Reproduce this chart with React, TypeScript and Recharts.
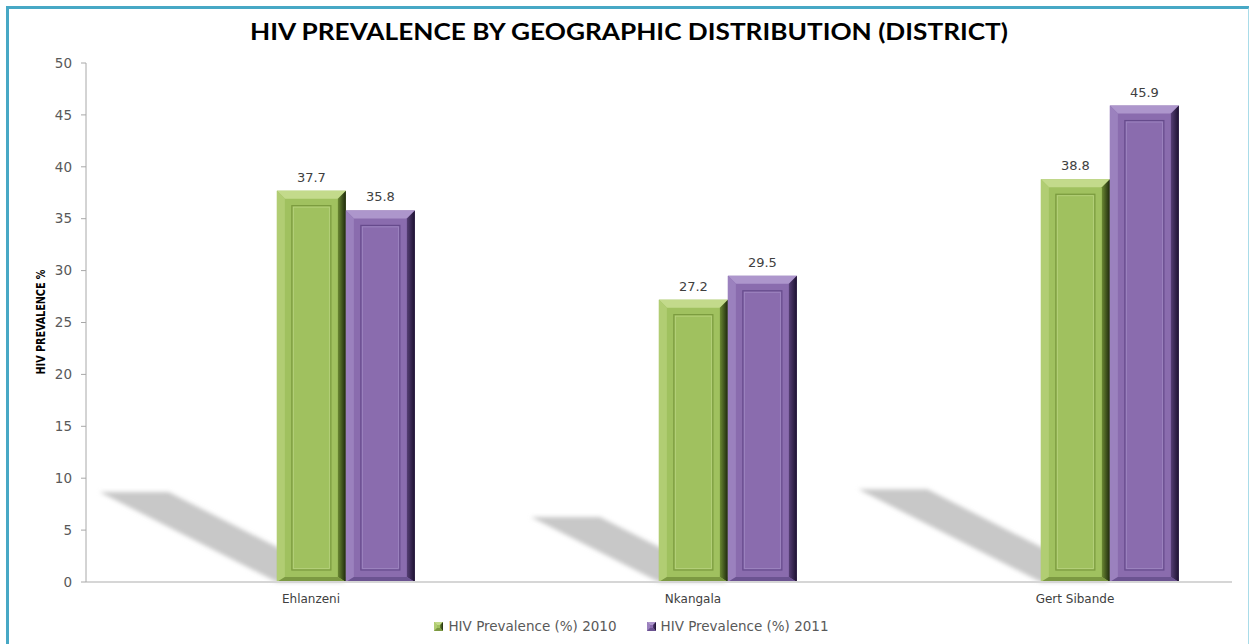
import React from "react";
import { BarChart, Bar, XAxis, YAxis, LabelList, Legend } from "recharts";

const categories = ["Ehlanzeni", "Nkangala", "Gert Sibande"];
const prev2010 = [37.7, 27.2, 38.8];
const prev2011 = [35.8, 29.5, 45.9];
const yTicks = [0, 5, 10, 15, 20, 25, 30, 35, 40, 45, 50];
const seriesNames = ["HIV Prevalence (%) 2010", "HIV Prevalence (%) 2011"];

const data = categories.map((name, i) => ({ name, y2010: prev2010[i], y2011: prev2011[i] }));

const PAL: Record<string, any> = {
  green: { face: "#a0c15f", top: "#c3da8b", left: "#b1cd73", right: "gRight", bottom: "#7c9942", line: "#7a9a3e", hi: "#b8d37f" },
  purple: { face: "#8a6cae", top: "#ad96cc", left: "#9b81be", right: "pRight", bottom: "#6b5391", line: "#664b8c", hi: "#a088c2" },
};

const bevelParts = (x: number, y: number, w: number, h: number, p: any, b: number, bb: number, inset: number) => {
  const r = p.right.startsWith("#") ? p.right : `url(#${p.right})`;
  return (
    <g>
      <rect x={x} y={y} width={w} height={h} fill={p.face} />
      <polygon points={`${x},${y} ${x + w},${y} ${x + w - b},${y + b} ${x + b},${y + b}`} fill={p.top} />
      <polygon points={`${x},${y} ${x + b},${y + b} ${x + b},${y + h - bb} ${x},${y + h}`} fill={p.left} />
      <polygon points={`${x + w},${y} ${x + w},${y + h} ${x + w - b},${y + h - bb} ${x + w - b},${y + b}`} fill={r} />
      <polygon points={`${x},${y + h} ${x + b},${y + h - bb} ${x + w - b},${y + h - bb} ${x + w},${y + h}`} fill={p.bottom} />
      {inset > 0 && h > inset * 2 && (
        <g>
          <rect x={x + inset} y={y + inset} width={w - inset * 2} height={h - inset - 12} fill="none" stroke={p.line} strokeWidth={1.2} />
          <rect x={x + inset + 1.5} y={y + inset + 1.5} width={w - inset * 2 - 3} height={h - inset - 15} fill="none" stroke={p.hi} strokeWidth={0.8} />
        </g>
      )}
    </g>
  );
};

const makeShape = (key: string, withShadow: boolean) => (props: any) => {
  const { x, y, width: w, height: h } = props;
  if (!w || !h) return <g />;
  const base = y + h;
  const sh = h * 0.23;
  const dx = sh * 1.97;
  return (
    <g>
      {withShadow && (
        <polygon
          points={`${x},${base} ${x - dx},${base - sh} ${x - dx + w},${base - sh} ${x + w},${base}`}
          fill="#c8c8c8"
          filter="url(#blurShadow)"
        />
      )}
      {bevelParts(x, y, w, h, PAL[key], 8, 5, 15)}
    </g>
  );
};

const LegendIcon = ({ k }: { k: string }) => (
  <svg width={9} height={9} style={{ marginRight: 5 }}>
    {bevelParts(0, 0, 9, 9, PAL[k], 3, 3, 0)}
  </svg>
);

const renderLegend = () => (
  <div style={{ display: "flex", justifyContent: "center", alignItems: "center", height: 22, paddingLeft: 14, fontFamily: "DejaVu Sans", fontSize: 13.5, color: "#595959" }}>
    {seriesNames.map((s, i) => (
      <div key={s} style={{ display: "flex", alignItems: "center", marginRight: i === 0 ? 30 : 0 }}>
        <LegendIcon k={i === 0 ? "green" : "purple"} />
        <span>{s}</span>
      </div>
    ))}
  </div>
);

export default function App() {
  return (
    <div style={{ position: "fixed", left: 0, top: 0, width: 1249, height: 644, overflow: "hidden", background: "#fff" }}>
      <div style={{ position: "absolute", left: 6, top: 6, width: 1239, height: 700, borderLeft: "3px solid #47a8c5", borderTop: "3px solid #47a8c5", borderRight: "2px solid #a9dce9" }} />
      <svg width={1249} height={60} style={{ position: "absolute", left: 0, top: 0 }}>
        <text x={250} y={40} textLength={758} lengthAdjust="spacingAndGlyphs" fontFamily="Lato" fontWeight="bold" fontSize={22} fill="#000">
          HIV PREVALENCE BY GEOGRAPHIC DISTRIBUTION (DISTRICT)
        </text>
      </svg>
      <div style={{ position: "absolute", left: 0, top: 0 }}>
        <BarChart width={1249} height={644} data={data} margin={{ top: 63, right: 17, left: 0, bottom: 10 }} barCategoryGap="31.9%" barGap={0}>
          <defs>
            <linearGradient id="gRight" x1="0" y1="0" x2="1" y2="0">
              <stop offset="0%" stopColor="#6a8832" />
              <stop offset="100%" stopColor="#1d280c" />
            </linearGradient>
            <linearGradient id="pRight" x1="0" y1="0" x2="1" y2="0">
              <stop offset="0%" stopColor="#553e74" />
              <stop offset="100%" stopColor="#1c1130" />
            </linearGradient>
            <filter id="blurShadow" x="-20%" y="-20%" width="140%" height="140%">
              <feGaussianBlur stdDeviation="2" />
            </filter>
          </defs>
          <XAxis
            dataKey="name"
            padding={{ left: 69, right: -69 }}
            height={30}
            tickLine={false}
            tickSize={0}
            tickMargin={12}
            axisLine={{ stroke: "#d6d6d6", strokeWidth: 2 }}
            tick={{ fontSize: 12, fontFamily: "DejaVu Sans", fill: "#404040", dx: -35 }}
          />
          <YAxis
            width={86}
            domain={[0, 50]}
            ticks={yTicks}
            interval={0}
            tickSize={5}
            tickMargin={9}
            axisLine={{ stroke: "#a8a8a8" }}
            tickLine={{ stroke: "#a8a8a8" }}
            tick={{ fontSize: 13.5, fontFamily: "DejaVu Sans", fill: "#595959" }}
            label={{
              content: () => (
                <text
                  x={45}
                  y={322}
                  transform="rotate(-90 45 322)"
                  textAnchor="middle"
                  textLength={105}
                  lengthAdjust="spacingAndGlyphs"
                  fontFamily="'Liberation Sans Narrow', 'DejaVu Sans Condensed', 'Liberation Sans'"
                  fontWeight="bold"
                  fontSize={12}
                  fill="#000"
                >
                  HIV PREVALENCE %
                </text>
              ),
            }}
          />
          <Legend content={renderLegend} wrapperStyle={{ left: 0, width: 1249, bottom: 7 }} />
          <Bar dataKey="y2010" name={seriesNames[0]} fill="#a0c15f" isAnimationActive={false} shape={makeShape("green", true)}>
            <LabelList dataKey="y2010" position="top" offset={9} style={{ fontSize: 13, fontFamily: "DejaVu Sans", fill: "#404040" }} />
          </Bar>
          <Bar dataKey="y2011" name={seriesNames[1]} fill="#8a6cae" isAnimationActive={false} shape={makeShape("purple", false)}>
            <LabelList dataKey="y2011" position="top" offset={9} style={{ fontSize: 13, fontFamily: "DejaVu Sans", fill: "#404040" }} />
          </Bar>
        </BarChart>
      </div>
    </div>
  );
}
